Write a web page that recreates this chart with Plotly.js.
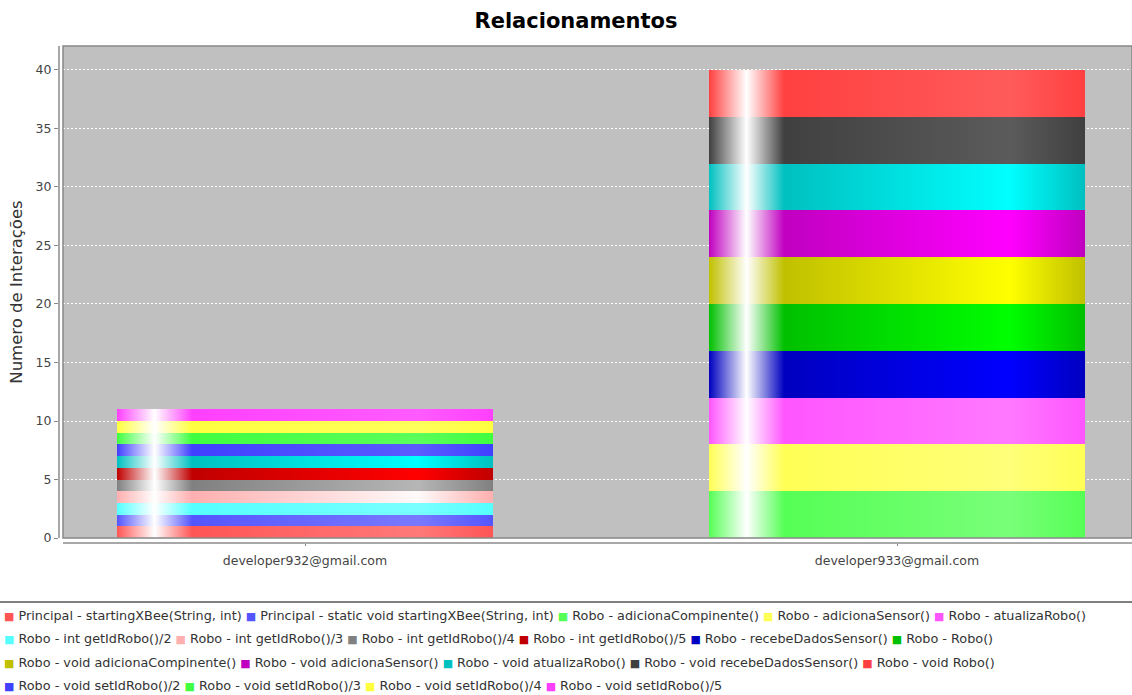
<!DOCTYPE html>
<html><head><meta charset="utf-8">
<script src="https://cdn.plot.ly/plotly-3.0.1.min.js"></script>
<style>html,body{margin:0;padding:0;background:#fff}#chart{width:1132px;height:695px}</style>
</head><body><div id="chart"></div>
<script>
// ---- data ----
const categories = ['developer932@gmail.com', 'developer933@gmail.com'];
const seriesNames = [
  'Principal - startingXBee(String, int)',
  'Principal - static void startingXBee(String, int)',
  'Robo - adicionaCompinente()',
  'Robo - adicionaSensor()',
  'Robo - atualizaRobo()',
  'Robo - int getIdRobo()/2',
  'Robo - int getIdRobo()/3',
  'Robo - int getIdRobo()/4',
  'Robo - int getIdRobo()/5',
  'Robo - recebeDadosSensor()',
  'Robo - Robo()',
  'Robo - void adicionaCompinente()',
  'Robo - void adicionaSensor()',
  'Robo - void atualizaRobo()',
  'Robo - void recebeDadosSensor()',
  'Robo - void Robo()',
  'Robo - void setIdRobo()/2',
  'Robo - void setIdRobo()/3',
  'Robo - void setIdRobo()/4',
  'Robo - void setIdRobo()/5'
];
const seriesColors = ['#FF5555','#5555FF','#55FF55','#FFFF55','#FF55FF','#55FFFF','#FFAFAF','#808080',
  '#C00000','#0000C0','#00C000','#C0C000','#C000C0','#00C0C0','#404040','#FF4040','#4040FF','#40FF40','#FFFF40','#FF40FF'];
const values932 = [1,1,0,0,0,1,1,1,1,0,0,0,0,1,0,0,1,1,1,1];
const values933 = [0,0,4,4,4,0,0,0,0,4,4,4,4,4,4,4,0,0,0,0];
const yTickVals = [0,5,10,15,20,25,30,35,40];
const chartTitle = 'Relacionamentos';
const yTitle = 'Numero de Interações';
const legendRowSizes = [5,6,5,4];

// ---- layout helpers ----
const W = 1132, H = 695, L = 59, R = 0, T = 46, B = 152;
const PW = W - L - R, PH = H - T - B;
const px2x = px => (px - L) / PW;
const px2y = py => (H - B - py) / PH;
const FONT = 'DejaVu Sans, Verdana, sans-serif';

const traces = seriesNames.map((name, i) => ({
  type: 'bar', name: name, x: categories,
  y: [values932[i] || null, values933[i] || null],
  width: 0.635,
  marker: {color: seriesColors[i], line: {width: 0}},
  hoverinfo: 'skip', showlegend: false
}));

// legend rows as annotations
const annotations = [];
const rowY = [615, 638.5, 662, 685.5];
let k = 0;
legendRowSizes.forEach((n, r) => {
  const parts = [];
  for (let j = 0; j < n; j++, k++) {
    parts.push('<span style="color:' + seriesColors[k] + ';font-size:11px">■</span> ' + seriesNames[k]);
  }
  annotations.push({
    xref: 'paper', yref: 'paper', x: px2x(2), y: px2y(rowY[r]),
    xanchor: 'left', yanchor: 'middle', align: 'left', showarrow: false,
    text: parts.join(' '),
    font: {family: FONT, size: 12.8, color: '#333'}
  });
});

const layout = {
  width: W, height: H,
  margin: {l: L, r: R, t: T, b: B, pad: 0},
  paper_bgcolor: '#ffffff', plot_bgcolor: '#C0C0C0',
  barmode: 'stack', hovermode: false, showlegend: false,
  title: {text: chartTitle, font: {family: FONT, size: 21, color: '#000', weight: 'bold'},
    xref: 'container', x: 576 / W, xanchor: 'center', yref: 'container', y: 1 - 21 / H, yanchor: 'middle'},
  xaxis: {
    type: 'category', domain: [4 / PW, 1], anchor: 'free', position: 0,
    range: [-(305 - 63) / 592, 1 + (1132 - 897) / 592],
    showgrid: false, zeroline: false, showline: true, linecolor: '#a8a8a8', linewidth: 2,
    ticks: 'outside', ticklen: 2, tickcolor: '#888', ticklabelstandoff: 4,
    tickfont: {family: FONT, size: 12.5, color: '#444'}
  },
  yaxis: {
    domain: [5 / PH, 1], anchor: 'free', position: 0,
    range: [0, 42.05], tickvals: yTickVals, ticktext: yTickVals.map(String),
    showgrid: true, gridcolor: '#ffffff', gridwidth: 1, griddash: '2px,2px',
    zeroline: false, showline: true, linecolor: '#a8a8a8', linewidth: 2,
    ticks: 'outside', ticklen: 4, tickcolor: '#888',
    tickfont: {family: FONT, size: 12.5, color: '#444'},
    title: {text: yTitle, font: {family: FONT, size: 16.5, color: '#333'}, standoff: 8}
  },
  shapes: [
    {type: 'rect', xref: 'x domain', yref: 'y domain', x0: 0, x1: 1, y0: 0, y1: 1,
     line: {color: '#888', width: 1.5}, fillcolor: 'rgba(0,0,0,0)', layer: 'above'},
    {type: 'line', xref: 'paper', yref: 'paper', x0: px2x(0), x1: 1, y0: px2y(602), y1: px2y(602),
     line: {color: '#808080', width: 2}}
  ],
  annotations: annotations
};

function brighter(hex) {
  let r = parseInt(hex.slice(1, 3), 16), g = parseInt(hex.slice(3, 5), 16), b = parseInt(hex.slice(5, 7), 16);
  const i = 3;
  if (r === 0 && g === 0 && b === 0) return 'rgb(3,3,3)';
  const f = v => { if (v > 0 && v < i) v = i; return Math.min(Math.floor(v / 0.7), 255); };
  return 'rgb(' + f(r) + ',' + f(g) + ',' + f(b) + ')';
}

function applyGradients(gd) {
  const ns = 'http://www.w3.org/2000/svg';
  const svg = gd.querySelector('.main-svg');
  let defs = svg.querySelector('defs');
  if (!defs) { defs = document.createElementNS(ns, 'defs'); svg.insertBefore(defs, svg.firstChild); }
  seriesColors.forEach((c, i) => {
    const lg = document.createElementNS(ns, 'linearGradient');
    lg.setAttribute('id', 'jfgrad' + i);
    lg.setAttribute('x1', '0'); lg.setAttribute('y1', '0');
    lg.setAttribute('x2', '1'); lg.setAttribute('y2', '0');
    [[0, c], [0.1, '#ffffff'], [0.2, c], [0.8, brighter(c)], [1, c]].forEach(s => {
      const st = document.createElementNS(ns, 'stop');
      st.setAttribute('offset', s[0]);
      st.setAttribute('stop-color', s[1]);
      lg.appendChild(st);
    });
    defs.appendChild(lg);
  });
  gd.querySelectorAll('.barlayer .trace').forEach((t, j) => {
    let idx = j;
    try { idx = t.__data__[0].trace.index; } catch (e) {}
    t.querySelectorAll('.point path').forEach(p => { p.style.fill = 'url(#jfgrad' + idx + ')'; });
  });
}

Plotly.newPlot('chart', traces, layout, {staticPlot: true, displayModeBar: false}).then(applyGradients);
</script>
</body></html>
